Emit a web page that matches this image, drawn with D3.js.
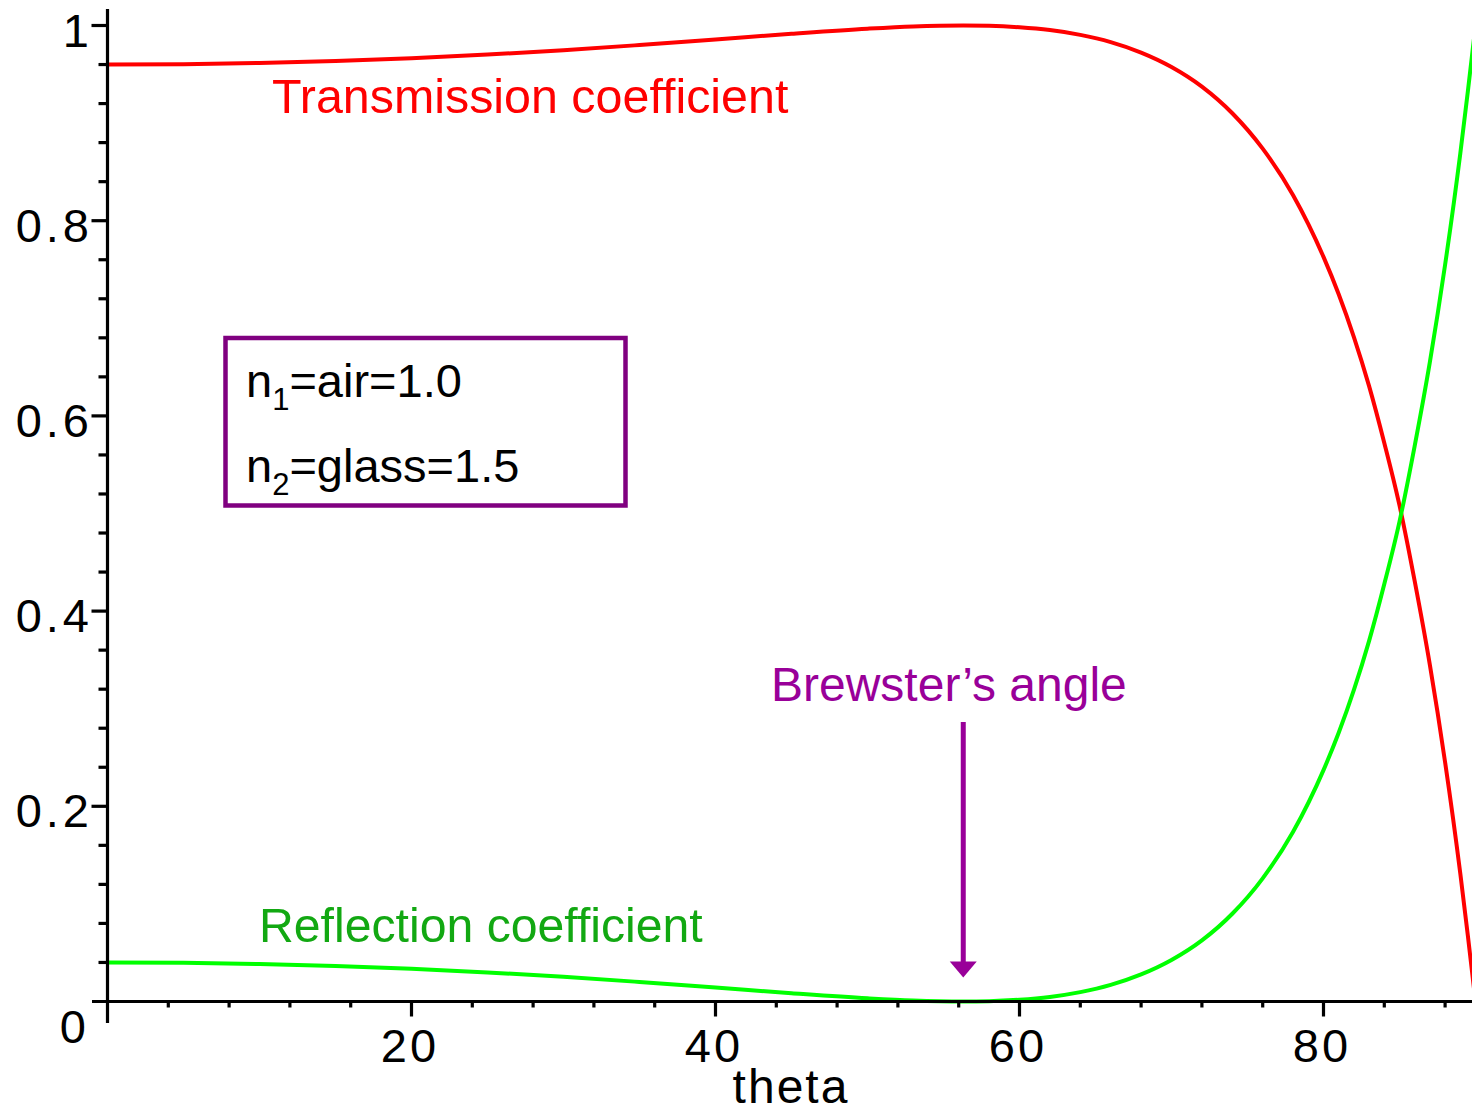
<!DOCTYPE html>
<html>
<head>
<meta charset="utf-8">
<script src="https://cdn.jsdelivr.net/npm/d3@7"></script>
<style>
  html, body { margin: 0; padding: 0; background: #fff; }
  svg { display: block; }
  text { font-family: "Liberation Sans", Arial, sans-serif; }
</style>
</head>
<body>
<script>
// ---- data ----
const theta = [0,5,10,15,20,25,30,35,40,45,50,53,56.3,58,60,62,64,66,68,70,72,74,76,78,80,81,82,83,84,85,86,87,88,89,89.5,90];
const reflection = [0.040,0.0396,0.0383,0.0363,0.0335,0.0298,0.0253,0.0200,0.0143,0.0085,0.0033,0.0010,0,0.0003,0.0018,0.0047,0.0096,0.0170,0.0277,0.0425,0.0626,0.0899,0.1262,0.1739,0.2371,0.2753,0.3192,0.3695,0.4277,0.4917,0.5694,0.6554,0.7548,0.8689,0.933,1];
const transmission = [0.960,0.9604,0.9617,0.9637,0.9665,0.9702,0.9747,0.9800,0.9857,0.9915,0.9967,0.9990,1,0.9997,0.9982,0.9953,0.9904,0.9830,0.9723,0.9575,0.9374,0.9101,0.8738,0.8261,0.7629,0.7247,0.6808,0.6305,0.5723,0.5083,0.4306,0.3446,0.2452,0.1311,0.067,0];
const xTickValues = [20,40,60,80];
const xTickLabels = ["20","40","60","80"];
const xMinorTicks = [4,8,12,16,24,28,32,36,44,48,52,56,64,68,72,76,84,88];
const yTickValues = [0.2,0.4,0.6,0.8,1];
const yTickLabels = ["0.2","0.4","0.6","0.8","1"];
const yMinorTicks = [0.04,0.08,0.12,0.16,0.24,0.28,0.32,0.36,0.44,0.48,0.52,0.56,0.64,0.68,0.72,0.76,0.84,0.88,0.92,0.96];
const brewsterAngle = 56.3;
const xTitle = "theta";

// ---- layout ----
const W = 1472, H = 1114;
const svg = d3.select("body").append("svg").attr("width", W).attr("height", H)
  .style("background", "#fff");

const x = d3.scaleLinear().domain([0, 90]).range([107.5, 107.5 + 15.2 * 90]);
const y = d3.scaleLinear().domain([0, 1]).range([1001.5, 25.5]);
const x0 = x(0), y0 = y(0);

const line = d3.line().x(d => x(d[0])).y(d => y(d[1])).curve(d3.curveMonotoneX);

// curves
svg.append("path")
  .datum(theta.map((t, i) => [t, transmission[i]]))
  .attr("d", line).attr("fill", "none")
  .attr("stroke", "#ff0000").attr("stroke-width", 4);
svg.append("path")
  .datum(theta.map((t, i) => [t, reflection[i]]))
  .attr("d", line).attr("fill", "none")
  .attr("stroke", "#00ff00").attr("stroke-width", 4);

// axes
const ax = svg.append("g").attr("stroke", "#000");
ax.append("line").attr("x1", x0).attr("x2", x0).attr("y1", 9).attr("y2", 1023).attr("stroke-width", 3.2);
ax.append("line").attr("x1", 92).attr("x2", W).attr("y1", y0).attr("y2", y0).attr("stroke-width", 3.2);

ax.selectAll(".ymaj").data(yTickValues).join("line")
  .attr("x1", x0 - 16).attr("x2", x0).attr("y1", d => y(d)).attr("y2", d => y(d)).attr("stroke-width", 3.2);
ax.selectAll(".ymin").data(yMinorTicks).join("line")
  .attr("x1", x0 - 9).attr("x2", x0).attr("y1", d => y(d)).attr("y2", d => y(d)).attr("stroke-width", 3.2);
ax.selectAll(".xmaj").data(xTickValues).join("line")
  .attr("x1", d => x(d)).attr("x2", d => x(d)).attr("y1", y0).attr("y2", y0 + 15).attr("stroke-width", 3.2);
ax.selectAll(".xmin").data(xMinorTicks).join("line")
  .attr("x1", d => x(d)).attr("x2", d => x(d)).attr("y1", y0).attr("y2", y0 + 6).attr("stroke-width", 3.2);

// tick labels
svg.selectAll(".ylab").data(yTickValues).join("text")
  .attr("x", 93).attr("y", d => y(d) + 21)
  .attr("text-anchor", "end").attr("font-size", 47).attr("letter-spacing", 4).attr("fill", "#000")
  .text((d, i) => yTickLabels[i]);
svg.append("text").attr("x", 88).attr("y", 1043)
  .attr("text-anchor", "end").attr("font-size", 47).attr("letter-spacing", 2).attr("fill", "#000").text("0");
svg.selectAll(".xlab").data(xTickValues).join("text")
  .attr("x", d => x(d) - 1.5).attr("y", 1062)
  .attr("text-anchor", "middle").attr("font-size", 47).attr("letter-spacing", 3).attr("fill", "#000")
  .text((d, i) => xTickLabels[i]);
svg.append("text").attr("x", 791).attr("y", 1103)
  .attr("text-anchor", "middle").attr("font-size", 48).attr("letter-spacing", 2)
  .attr("fill", "#000").text(xTitle);

// annotations
svg.append("text").attr("x", 272).attr("y", 113).attr("font-size", 48.4)
  .attr("fill", "#ff0000").text("Transmission coefficient");
svg.append("text").attr("x", 259).attr("y", 942).attr("font-size", 48.2)
  .attr("fill", "#12a812").text("Reflection coefficient");
svg.append("text").attr("x", 771).attr("y", 701).attr("font-size", 48)
  .attr("fill", "#990099").text("Brewster\u2019s angle");

// Brewster arrow
const bx = x(brewsterAngle);
svg.append("line").attr("x1", bx).attr("x2", bx).attr("y1", 722).attr("y2", 964)
  .attr("stroke", "#990099").attr("stroke-width", 5);
svg.append("path")
  .attr("d", `M${bx - 13.5},961.5 L${bx + 13.5},961.5 L${bx},977.5 Z`)
  .attr("fill", "#990099");

// info box
svg.append("rect").attr("x", 225.5).attr("y", 338).attr("width", 400).attr("height", 167.5)
  .attr("fill", "#fff").attr("stroke", "#800080").attr("stroke-width", 4.5);
function boxLine(yb, sub, rest) {
  const t = svg.append("text").attr("x", 246).attr("y", yb).attr("font-size", 47).attr("fill", "#000");
  t.append("tspan").text("n");
  t.append("tspan").attr("font-size", 31).attr("dy", 13).text(sub);
  t.append("tspan").attr("dy", -13).text(rest);
}
boxLine(397, "1", "=air=1.0");
boxLine(482, "2", "=glass=1.5");
</script>
</body>
</html>
